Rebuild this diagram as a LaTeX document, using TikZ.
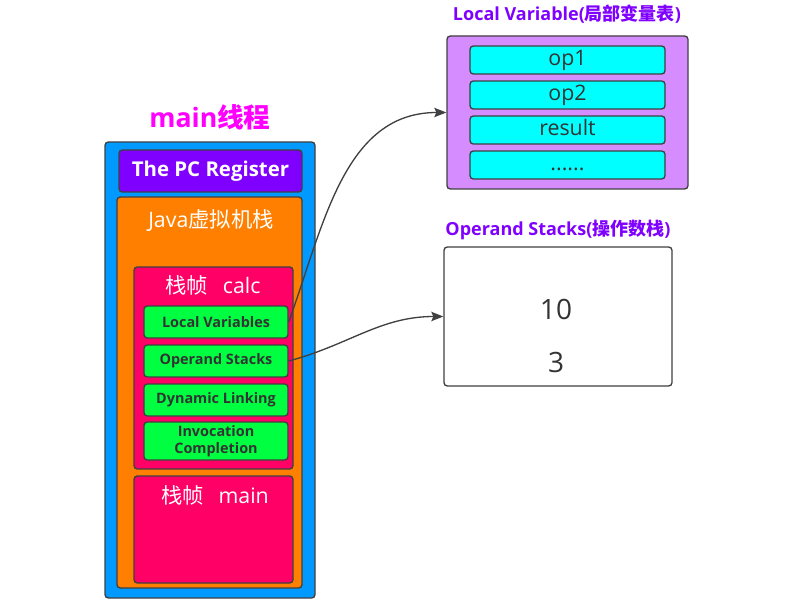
\documentclass[tikz,border=0pt]{standalone}
\usepackage{fontspec}
\setmainfont{Open Sans}
\newfontfamily\cjk{Noto Sans CJK SC}
\usetikzlibrary{arrows.meta}
\definecolor{cblue}{RGB}{0,153,255}
\definecolor{cpurple}{RGB}{128,0,255}
\definecolor{corange}{RGB}{255,128,0}
\definecolor{cpink}{RGB}{255,0,102}
\definecolor{cgreen}{RGB}{0,255,64}
\definecolor{ccyan}{RGB}{0,255,255}
\definecolor{clilac}{RGB}{213,140,255}
\definecolor{cmag}{RGB}{255,0,255}
\definecolor{cborder}{RGB}{64,64,64}
\definecolor{ctext}{RGB}{51,51,51}
\begin{document}
\begin{tikzpicture}[x=0.75pt,y=-0.75pt,
  box/.style={draw=cborder,line width=1pt,rounded corners=2.5pt,inner sep=0pt},
  gbox/.style={box,fill=cgreen,minimum width=108pt,text=ctext,font=\fontsize{10.8}{13}\selectfont\bfseries,align=center},
  cbox/.style={box,fill=ccyan,minimum width=146.25pt,minimum height=21pt,text height=11.5pt,text depth=3.5pt,text=ctext,font=\fontsize{16}{17}\selectfont},
  wlabel/.style={text=white,font=\fontsize{16}{18}\selectfont},
  title/.style={text=cpurple,font=\fontsize{13.5}{15}\selectfont\bfseries},
  conn/.style={draw=cborder,line width=1pt,-{Stealth[length=9pt,width=7pt,inset=1.5pt]}}]
\useasboundingbox (0,0) rectangle (793,613);
% main thread
\node[text=cmag,font=\fontsize{20}{22}\selectfont\bfseries] (ttl) at (210,117) {main{\cjk 线程}};
\node[box,fill=cblue,minimum width=157.5pt,minimum height=342pt] (thread) at (210,370) {};
\node[box,fill=cpurple,minimum width=137.25pt,minimum height=31.5pt,text=white,font=\fontsize{15.3}{17}\selectfont\bfseries] (pc) at (210.5,171) {The PC Register};
\node[box,fill=corange,minimum width=138.75pt,minimum height=293.25pt] (jvm) at (209.5,392.5) {};
\node[wlabel] (jvmt) at (211,221) {Java{\cjk 虚拟机栈}};
\node[box,fill=cpink,minimum width=119.25pt,minimum height=151.5pt] (calc) at (213.5,368) {};
\node[wlabel] (calct) at (213,285) {{\cjk 栈帧}\ \ \,calc};
\node[gbox,minimum height=24pt] (lv) at (216,322) {Local Variables};
\node[gbox,minimum height=24pt] (os) at (216,361) {Operand Stacks};
\node[gbox,minimum height=24pt] (dl) at (216,400) {Dynamic Linking};
\node[gbox,minimum height=28.5pt] (ic) at (216,441) {Invocation\\Completion};
\node[box,fill=cpink,minimum width=119.25pt,minimum height=80.25pt] (mainf) at (213.5,529.5) {};
\node[wlabel] (maint) at (215,495) {{\cjk 栈帧}\ \ \,main};
% local variable table
\node[title] (lvt) at (567,14) {Local Variable({\cjk 局部变量表})};
\node[box,fill=clilac,minimum width=180.75pt,minimum height=114.75pt] (lvbox) at (567.5,112.5) {};
\node[cbox] (op1) at (567.5,60) {op1};
\node[cbox] (op2) at (567.5,95) {op2};
\node[cbox] (res) at (567.5,130) {result};
\node[cbox] (dots) at (567.5,165) {......};
% operand stack
\node[title] (ost) at (558,230) {Operand Stacks({\cjk 操作数栈})};
\node[box,fill=white,minimum width=171pt,minimum height=104.25pt] (osbox) at (558,316.5) {};
\node[text=ctext,font=\fontsize{21}{23}\selectfont] (v10) at (556,309) {10};
\node[text=ctext,font=\fontsize{21}{23}\selectfont] (v3) at (556,362) {3};
% connectors
\draw[conn] (lv.east) to[out=70,in=180] (lvbox.west);
\draw[conn] (os.east) to[out=15,in=180] (osbox.west);
\end{tikzpicture}
\end{document}
